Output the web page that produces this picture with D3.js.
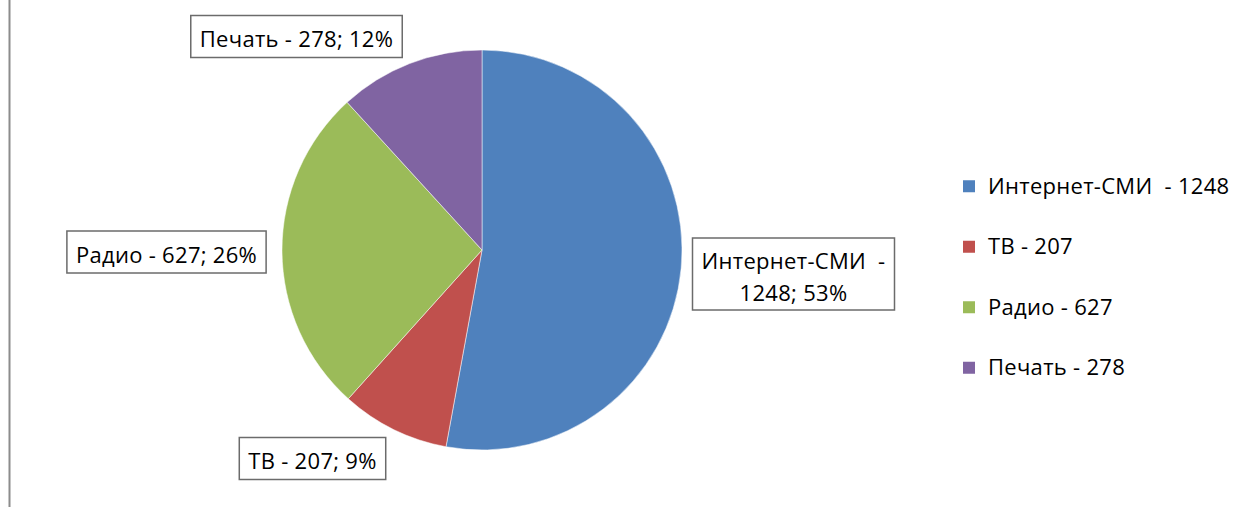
<!DOCTYPE html>
<html>
<head>
<meta charset="utf-8">
<script src="https://cdn.jsdelivr.net/npm/d3@7"></script>
<style>
    html, body { margin: 0; padding: 0; background: #fff; }
    svg { display: block; font-family: "Open Sans", "Noto Sans", sans-serif; }
    text { white-space: pre; letter-spacing: 0.3px; }
</style>
</head>
<body>
<svg width="1249" height="507"></svg>
<script>
// chart data
const categories = ['Интернет-СМИ ', 'ТВ', 'Радио', 'Печать'];
const values = [1248, 207, 627, 278];
const colors = ['#4F81BD', '#C0504D', '#9BBB59', '#8064A2'];

// label box centres, relative to pie centre (layout only)
const labelOffsets = [[311.5, 24], [-169.5, 208.5], [-315.5, 2], [-185.5, -213.5]];

const width = 1249;
const height = 507;
const cx = 482, cy = 250, radius = 200;
const fontSize = 22;

const svg = d3.select('svg');

// left border line
svg.append('line')
    .attr('x1', 9.5).attr('x2', 9.5)
    .attr('y1', 0).attr('y2', height)
    .attr('stroke', '#8c8c8c')
    .attr('stroke-width', 2);

const total = d3.sum(values);
const data = categories.map((c, i) => ({ name: c, value: values[i], i: i }));

// whole percents that add up to 100 (largest remainder)
function roundPercents(vals) {
    const raw = vals.map(v => v / total * 100);
    const out = raw.map(Math.floor);
    let left = 100 - d3.sum(out);
    const order = d3.range(raw.length).sort((a, b) => (raw[b] - out[b]) - (raw[a] - out[a]));
    for (let k = 0; k < left; k++) out[order[k]] += 1;
    return out;
}
const percents = roundPercents(values);

const pie = d3.pie().sort(null).value(d => d.value);
const arc = d3.arc().innerRadius(0).outerRadius(radius);

const g = svg.append('g')
    .attr('transform', `translate(${cx},${cy})`);

g.selectAll('path')
    .data(pie(data))
    .enter().append('path')
    .attr('d', arc)
    .attr('fill', d => colors[d.data.i])
    .attr('stroke', '#fff')
    .attr('stroke-width', 0.5);

// data labels in boxes
const labels = g.selectAll('.label')
    .data(pie(data))
    .enter().append('g')
    .attr('class', 'label')
    .attr('transform', d => `translate(${labelOffsets[d.data.i][0]},${labelOffsets[d.data.i][1]})`);

labels.each(function(d) {
    const sel = d3.select(this);
    const pct = percents[d.data.i];
    let lines;
    if (d.data.i === 0) {
        lines = [d.data.name + ' -', d.data.value + '; ' + pct + '%'];
    } else {
        lines = [d.data.name + ' - ' + d.data.value + '; ' + pct + '%'];
    }
    const lineH = 32;
    const rect = sel.append('rect');
    const text = sel.append('text')
        .attr('text-anchor', 'middle')
        .attr('font-size', fontSize)
        .attr('fill', '#000');
    lines.forEach((l, k) => {
        text.append('tspan')
            .attr('x', 0)
            .attr('y', 3 + (k - (lines.length - 1) / 2) * lineH)
            .attr('dy', '0.35em')
            .text(l);
    });
    const bb = text.node().getBBox();
    const padX = 9;
    const w = d.data.i === 0 ? 202 : bb.width + padX * 2;
    const h = lines.length === 1 ? 42 : 72;
    rect.attr('x', -w / 2).attr('y', -h / 2)
        .attr('width', w).attr('height', h)
        .attr('fill', '#fff')
        .attr('stroke', '#6b6b6b')
        .attr('stroke-width', 1.5);
});

// legend
const legend = svg.append('g')
    .attr('transform', 'translate(963,0)');

const legendY = d3.scaleBand()
    .domain(categories)
    .range([156, 398]);

const item = legend.selectAll('.item')
    .data(data)
    .enter().append('g')
    .attr('class', 'item')
    .attr('transform', d => `translate(0,${legendY(d.name) + legendY.bandwidth() / 2})`);

item.append('rect')
    .attr('x', 0).attr('y', -6)
    .attr('width', 12).attr('height', 12)
    .attr('fill', d => colors[d.i]);

item.append('text')
    .attr('x', 25)
    .attr('dy', '0.35em')
    .attr('font-size', fontSize)
    .text(d => d.name + ' - ' + d.value);
</script>
</body>
</html>
